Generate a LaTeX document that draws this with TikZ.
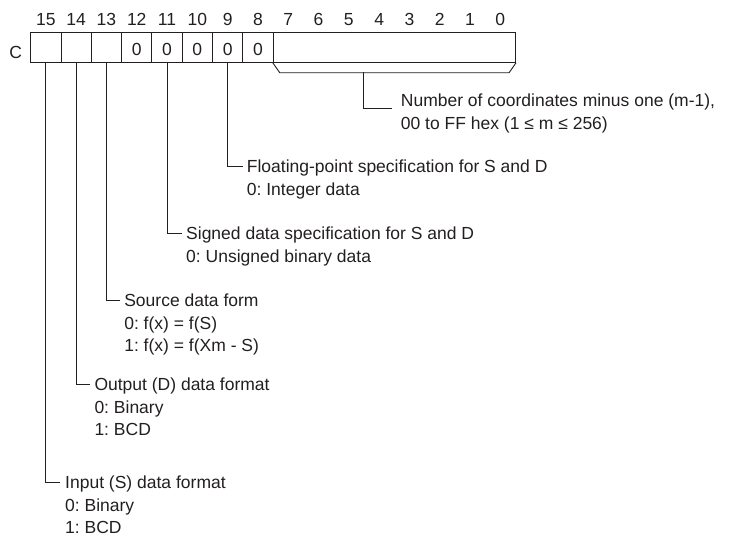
\documentclass[tikz,border=0pt]{standalone}
\usepackage{fontspec}
\setmainfont{Liberation Sans}
\usepackage{tikz}
\definecolor{Ink}{HTML}{231F20}
\frenchspacing

\begin{document}
\begin{tikzpicture}[x=1pt, y=-1pt,
  cell/.style={draw=Ink, line width=0.9pt, minimum width=30.3pt, minimum height=30pt,
               inner sep=0pt, text height=16pt, text depth=0pt,
               font=\fontsize{17.5}{22.5}\selectfont, text=Ink},
  lbl/.style={inner sep=0pt, font=\fontsize{17.5}{22.5}\selectfont, text=Ink},
  txt/.style={lbl, align=left, anchor=base west},
  lead/.style={draw=Ink, line width=0.9pt}]
  \useasboundingbox (0,0) rectangle (736,536);
  % register word, bits 15 to 8 and the field 7 to 0
  \foreach \b/\v in {15/,14/,13/,12/0,11/0,10/0,9/0,8/0}
    \node[cell] (c\b) at ({45.85+(15-\b)*30.3},47.3) {\v};
  \node[cell, minimum width=242.4pt] (F) at (394.4,47.3) {};
  \foreach \b in {0,...,15}
    \node[lbl, anchor=base] (n\b) at ({45.85+(15-\b)*30.3},25.5) {\b};
  \node[lbl, anchor=base] (C) at (15.8,58.5) {C};
  % bracket under bits 7 to 0
  \draw[lead] (F.south west) -- ([xshift=7pt,yshift=-10pt]F.south west)
    -- ([xshift=-7pt,yshift=-10pt]F.south east) -- (F.south east);
  \coordinate (br) at (363.3,72.3);
  % descriptions (placed by the baseline of their last line)
  \node[txt] (tN) at (400.7,129) {Number of coordinates minus one (m-1),\\00 to FF hex (1 ≤ m ≤ 256)};
  \node[txt] (tF) at (246.7,195) {Floating-point specification for S and D\\0: Integer data};
  \node[txt] (tS) at (186,262) {Signed data specification for S and D\\0: Unsigned binary data};
  \node[txt] (tX) at (124.1,351.5) {Source data form\\0: f(x) = f(S)\\1: f(x) = f(Xm - S)};
  \node[txt] (tO) at (94.3,435.5) {Output (D) data format\\0: Binary\\1: BCD};
  \node[txt] (tI) at (65,533.8) {Input (S) data format\\0: Binary\\1: BCD};
  % leaders
  \draw[lead] (br) |- ([xshift=-9pt,yshift=20.7pt]tN.base west);
  \draw[lead] (c9.south)  |- ([xshift=-4pt,yshift=28.8pt]tF.base west);
  \draw[lead] (c11.south) |- ([xshift=-4pt,yshift=28.8pt]tS.base west);
  \draw[lead] (c13.south) |- ([xshift=-4pt,yshift=51.3pt]tX.base west);
  \draw[lead] (c14.south) |- ([xshift=-4pt,yshift=51.3pt]tO.base west);
  \draw[lead] (c15.south) |- ([xshift=-5pt,yshift=51.3pt]tI.base west);
\end{tikzpicture}
\end{document}
